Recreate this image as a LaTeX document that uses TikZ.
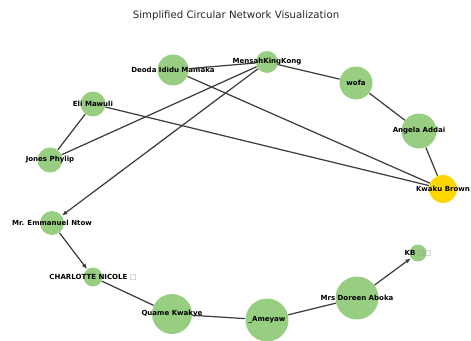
\documentclass[tikz,border=0pt]{standalone}
\usepackage{fontspec}
\setmainfont{DejaVu Sans}
\usetikzlibrary{arrows.meta}
\definecolor{nodegreen}{RGB}{152,206,130}
\definecolor{nodegold}{RGB}{255,215,0}
\definecolor{edgegray}{RGB}{60,60,60}

\begin{document}
\begin{tikzpicture}[
        x=0.02cm, y=-0.02cm,
        font=\fontsize{4}{5}\selectfont\bfseries,
        person/.style={circle, fill=nodegreen, minimum size=#1, inner sep=0pt},
        focus/.style={circle, fill=nodegold, minimum size=#1, inner sep=0pt},
        lnk/.style={draw=edgegray, line width=0.7pt},
        arr/.style={lnk, -{Latex[length=1.1mm,width=0.9mm]}}
      ]
        \useasboundingbox (0,0) rectangle (471,341);
        \node[font=\fontsize{5.8}{7}\selectfont, text=black!85] (title) at (236,16)
          {Simplified Circular Network Visualization};

        \node[person=0.62cm, label=center:{Deoda Ididu Mamaka}] (DM) at (173,70) {};
        \node[person=0.44cm, label=center:{MensahKingKong}]     (MK) at (267,62) {};
        \node[person=0.66cm, label=center:{wofa}]               (W)  at (356,83) {};
        \node[person=0.70cm, label=center:{Angela Addai}]       (AA) at (419,131) {};
        \node[focus=0.56cm,  label=center:{Kwaku Brown}]        (KW) at (443,189) {};
        \node[person=0.50cm, label=center:{Eli Mawuli}]         (EM) at (93,104) {};
        \node[person=0.50cm, label=center:{Jones Phylip}]       (JP) at (50,160) {};
        \node[person=0.48cm, label=center:{Mr. Emmanuel Ntow}]  (EN) at (52,223) {};
        \node[person=0.38cm, label=center:{CHARLOTTE NICOLE \textcolor{black!40}{□}}] (CN) at (93,277) {};
        \node[person=0.80cm, label=center:{Quame Kwakye}]       (QK) at (172,314) {};
        \node[person=0.86cm, label=center:{\_Ameyaw}]           (AM) at (267,320) {};
        \node[person=0.86cm, label=center:{Mrs Doreen Aboka}]   (DA) at (357,298) {};
        \node[person=0.34cm, label=center:{KB \textcolor{black!40}{□□}}] (KB) at (418,253) {};

        \draw[lnk] (DM) -- (MK);
        \draw[lnk] (MK) -- (W);
        \draw[lnk] (W) -- (AA);
        \draw[lnk] (AA) -- (KW);
        \draw[lnk] (DM) -- (KW);
        \draw[lnk] (EM) -- (KW);
        \draw[lnk] (EM) -- (JP);
        \draw[lnk] (JP) -- (MK);
        \draw[arr] (MK) -- (EN);
        \draw[arr] (EN) -- (CN);
        \draw[lnk] (CN) -- (QK);
        \draw[lnk] (QK) -- (AM);
        \draw[lnk] (AM) -- (DA);
        \draw[arr] (DA) -- (KB);
      \end{tikzpicture}
\end{document}
